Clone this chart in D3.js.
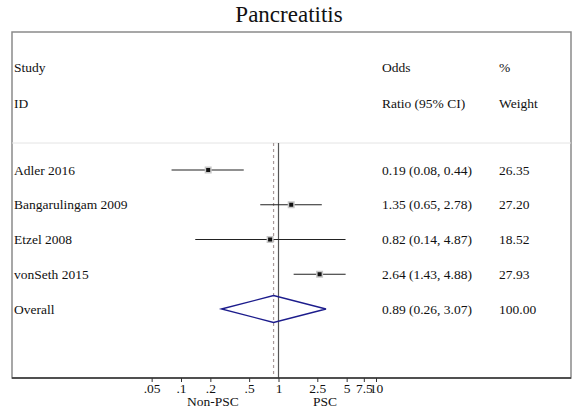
<!DOCTYPE html>
<html lang="en">
<head>
<meta charset="UTF-8">
<title>Pancreatitis forest plot</title>
<style>
  body { margin: 0; background: #fff; }
  svg text { font-family: "Liberation Serif", "DejaVu Serif", serif; fill: #111; }
</style>
</head>
<body>
<div id="chart"></div>
<script src="https://d3js.org/d3.v7.min.js"></script>
<script>
// data
const studies = ["Adler 2016", "Bangarulingam 2009", "Etzel 2008", "vonSeth 2015"];
const orValues = [0.19, 1.35, 0.82, 2.64];
const ciLow = [0.08, 0.65, 0.14, 1.43];
const ciHigh = [0.44, 2.78, 4.87, 4.88];
const weights = [26.35, 27.20, 18.52, 27.93];
const overall = {label: "Overall", or: 0.89, lo: 0.26, hi: 3.07, weight: 100.00};
const tickValues = [0.05, 0.1, 0.2, 0.5, 1, 2.5, 5, 7.5, 10];
const tickLabels = [".05", ".1", ".2", ".5", "1", "2.5", "5", "7.5", "10"];

const W = 576, H = 418;
const box = {left: 12, top: 32, right: 571, bottom: 378};
const serif = "'Liberation Serif', 'DejaVu Serif', serif";
const fs = "13.5px";

const svg = d3.select("#chart").append("svg")
    .attr("width", W).attr("height", H);

// log scale for odds ratios
const x = d3.scaleLog().domain([0.1, 10]).range([181, 376]);

// row positions
const rows = studies.concat([overall.label]);
const y = d3.scalePoint().domain(rows).range([170, 309]);

// title
svg.append("text")
    .attr("x", W / 2 + 1).attr("y", 22)
    .attr("text-anchor", "middle")
    .style("font-family", serif)
    .style("font-size", "23px")
    .text("Pancreatitis");

// frame
svg.append("rect")
    .attr("x", box.left).attr("y", box.top)
    .attr("width", box.right - box.left).attr("height", box.bottom - box.top)
    .attr("fill", "none").attr("stroke", "#8a8a8a").attr("stroke-width", 1.5);

// faint separator under header
svg.append("line")
    .attr("x1", box.left).attr("x2", box.right)
    .attr("y1", 143).attr("y2", 143)
    .attr("stroke", "#e4e4e4").attr("stroke-width", 1);

// headers
const hdr = [
  {t: "Study", x: 14, y: 72}, {t: "ID", x: 14, y: 108},
  {t: "Odds", x: 382, y: 72}, {t: "Ratio (95% CI)", x: 382, y: 108},
  {t: "%", x: 499, y: 72}, {t: "Weight", x: 499, y: 108}
];
svg.selectAll("text.hdr").data(hdr).join("text")
    .attr("class", "hdr")
    .attr("x", d => d.x).attr("y", d => d.y)
    .style("font-family", serif)
    .style("font-size", fs)
    .text(d => d.t);

// null line and overall dashed line
svg.append("line")
    .attr("x1", x(1)).attr("x2", x(1))
    .attr("y1", 143).attr("y2", box.bottom)
    .attr("stroke", "#555").attr("stroke-width", 1.2);
svg.append("line")
    .attr("x1", x(overall.or)).attr("x2", x(overall.or))
    .attr("y1", 143).attr("y2", box.bottom)
    .attr("stroke", "#a89a9a").attr("stroke-width", 1.2)
    .attr("stroke-dasharray", "3,3");

// study rows
const data = studies.map((s, i) => ({
  name: s, or: orValues[i], lo: ciLow[i], hi: ciHigh[i], w: weights[i]
}));

const g = svg.selectAll("g.row").data(data).join("g").attr("class", "row");

g.append("line")
    .attr("x1", d => x(d.lo)).attr("x2", d => x(d.hi))
    .attr("y1", d => y(d.name)).attr("y2", d => y(d.name))
    .attr("stroke", "#222").attr("stroke-width", 1.2);

// weight box (light gray) and point
g.append("rect")
    .attr("x", d => x(d.or) - 3.5).attr("y", d => y(d.name) - 3.5)
    .attr("width", 7).attr("height", 7)
    .attr("fill", "#c8c8c8");
g.append("rect")
    .attr("x", d => x(d.or) - 2).attr("y", d => y(d.name) - 2)
    .attr("width", 4).attr("height", 4)
    .attr("fill", "#111");

// diamond for overall
const oy = y(overall.label);
svg.append("path")
    .attr("d", `M${x(overall.lo)},${oy} L${x(overall.or)},${oy - 13.5} L${x(overall.hi)},${oy} L${x(overall.or)},${oy + 13.5} Z`)
    .attr("fill", "none").attr("stroke", "#1c1c8c").attr("stroke-width", 1.3);

// left labels and right columns
const allRows = data.concat([{name: overall.label, or: overall.or, lo: overall.lo, hi: overall.hi, w: overall.weight}]);
svg.selectAll("text.name").data(allRows).join("text")
    .attr("class", "name")
    .attr("x", 14).attr("y", d => y(d.name) + 4.5)
    .style("font-family", serif)
    .style("font-size", fs)
    .text(d => d.name);
svg.selectAll("text.est").data(allRows).join("text")
    .attr("class", "est")
    .attr("x", 382).attr("y", d => y(d.name) + 4.5)
    .style("font-family", serif)
    .style("font-size", fs)
    .text(d => `${d.or.toFixed(2)} (${d.lo.toFixed(2)}, ${d.hi.toFixed(2)})`);
svg.selectAll("text.wt").data(allRows).join("text")
    .attr("class", "wt")
    .attr("x", 499).attr("y", d => y(d.name) + 4.5)
    .style("font-family", serif)
    .style("font-size", fs)
    .text(d => d.w.toFixed(2));

// x axis
const axis = svg.append("g")
    .attr("transform", `translate(0,${box.bottom})`)
    .call(d3.axisBottom(x).tickValues(tickValues)
        .tickFormat((d, i) => tickLabels[i]).tickSize(4).tickSizeOuter(0));
axis.select(".domain").remove();
axis.append("line")
    .attr("x1", box.left).attr("x2", box.right)
    .attr("stroke", "#333").attr("stroke-width", 1.5);
axis.selectAll(".tick line").attr("stroke", "#333");
axis.selectAll(".tick text")
    .attr("y", 5)
    .style("font-family", serif)
    .style("font-size", fs).attr("fill", "#111");

svg.append("text")
    .attr("x", 213).attr("y", 406).attr("text-anchor", "middle")
    .style("font-family", serif)
    .style("font-size", fs).text("Non-PSC");
svg.append("text")
    .attr("x", 325).attr("y", 406).attr("text-anchor", "middle")
    .style("font-family", serif)
    .style("font-size", fs).text("PSC");
</script>
</body>
</html>
